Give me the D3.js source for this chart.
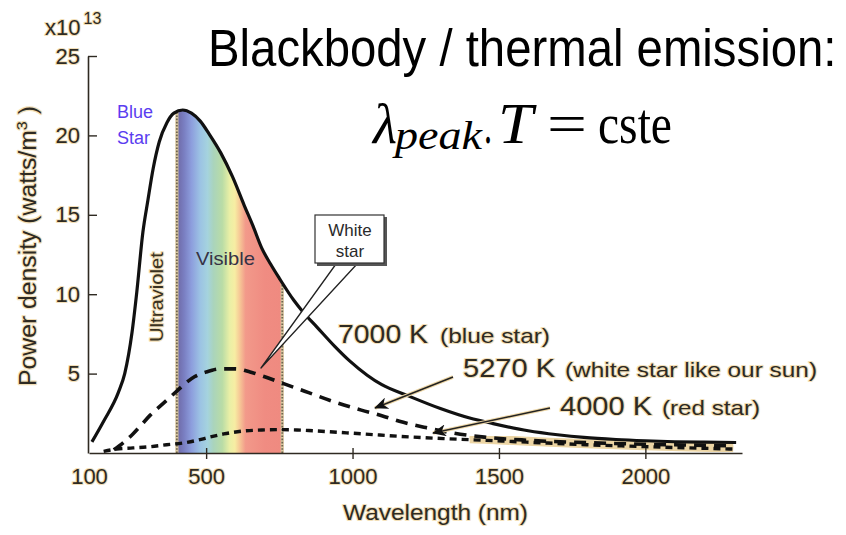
<!DOCTYPE html>
<html>
<head>
<meta charset="utf-8">
<script src="https://cdn.jsdelivr.net/npm/d3@7"></script>
<style>
  html, body { margin: 0; padding: 0; background: #ffffff; }
  svg { display: block; }
  .sans { font-family: "Liberation Sans", Arial, Helvetica, sans-serif; }
  .halo { paint-order: stroke; stroke: #f2dfb8; stroke-width: 2.2px; stroke-linejoin: round; }
</style>
</head>
<body>
<svg id="chart" width="846" height="535"></svg>
<script>
// Wavelength in nm, spectral power density in units of 1e13 W/m^3
const wavelength7000 = [110, 150, 200, 222, 247, 263, 284, 301, 319, 340, 366, 390, 420, 450, 480, 510, 550, 590, 630, 660, 690, 720, 750, 800, 830, 880, 940, 990, 1050, 1100, 1190, 1300, 1400, 1480, 1600, 1700, 1790, 1900, 2000, 2100, 2200, 2310];
const power7000 = [0.7, 2.0, 3.8, 5.0, 7.6, 10.1, 13.9, 15.9, 17.9, 19.6, 20.8, 21.4, 21.6, 21.4, 20.9, 20.1, 18.9, 17.4, 15.6, 14.3, 12.9, 11.9, 11.0, 9.6, 8.9, 7.9, 6.7, 5.8, 4.9, 4.3, 3.6, 2.8, 2.2, 1.85, 1.4, 1.15, 0.98, 0.85, 0.77, 0.71, 0.68, 0.66];

const wavelength5270 = [185, 220, 250, 280, 310, 340, 370, 400, 430, 460, 500, 550, 600, 650, 700, 760, 850, 940, 1030, 1100, 1160, 1250, 1330, 1450, 1600, 1800, 2000, 2150, 2300];
const power5270 = [0.2, 0.7, 1.2, 1.8, 2.4, 2.9, 3.4, 3.9, 4.4, 4.8, 5.1, 5.3, 5.3, 5.1, 4.8, 4.4, 3.8, 3.2, 2.7, 2.35, 2.0, 1.6, 1.3, 1.0, 0.8, 0.65, 0.55, 0.5, 0.45];

const wavelength4000 = [150, 194, 250, 300, 365, 420, 470, 512, 560, 626, 690, 752, 810, 865, 980, 1093, 1207, 1320, 1450, 1600, 1800, 2000, 2150, 2300];
const power4000 = [0.1, 0.25, 0.32, 0.38, 0.52, 0.63, 0.8, 1.0, 1.2, 1.38, 1.45, 1.47, 1.45, 1.4, 1.27, 1.13, 1.0, 0.9, 0.8, 0.68, 0.52, 0.4, 0.32, 0.25];

const xTicks = [100, 500, 1000, 1500, 2000];
const yTicks = [5, 10, 15, 20, 25];
const visibleRange = [400, 760];
const spectrumStops = [
  [400, "#6d68a4"], [425, "#7a7fc2"], [450, "#8d9edd"], [480, "#9cc3e4"],
  [505, "#a5d3de"], [525, "#aad4bc"], [555, "#b9dca6"], [580, "#e9efa6"],
  [598, "#f7eda3"], [615, "#f6c796"], [635, "#f2998a"], [700, "#f08c82"], [760, "#ef8a80"]
];

const zip = (xs, ys) => xs.map((w, i) => ({ w, p: ys[i] }));
const curve7000 = zip(wavelength7000, power7000);
const curve5270 = zip(wavelength5270, power5270);
const curve4000 = zip(wavelength4000, power4000);

const svg = d3.select("#chart");
const x = d3.scaleLinear().domain([100, 2330]).range([89, 742]);
const y = d3.scaleLinear().domain([0, 25]).range([453, 56]);

const line = d3.line().x(d => x(d.w)).y(d => y(d.p)).curve(d3.curveMonotoneX);
const areaUnder = d3.area().x(d => x(d.w)).y0(y(0)).y1(d => y(d.p)).curve(d3.curveMonotoneX);

const defs = svg.append("defs");
defs.append("clipPath").attr("id", "under7000")
  .append("path").attr("d", areaUnder(curve7000));
defs.append("clipPath").attr("id", "tailBand")
  .append("rect")
  .attr("x", x(1400)).attr("y", 436)
  .attr("width", x(2330) - x(1400)).attr("height", 16);

const grad = defs.append("linearGradient").attr("id", "spectrum")
  .attr("gradientUnits", "userSpaceOnUse")
  .attr("x1", x(visibleRange[0])).attr("x2", x(visibleRange[1]))
  .attr("y1", 0).attr("y2", 0);
grad.selectAll("stop").data(spectrumStops).join("stop")
  .attr("offset", d => (d[0] - visibleRange[0]) / (visibleRange[1] - visibleRange[0]))
  .attr("stop-color", d => d[1]);

const marker = defs.append("marker").attr("id", "arrowHead")
  .attr("viewBox", "0 -6 14 12").attr("refX", 13).attr("refY", 0)
  .attr("markerWidth", 14).attr("markerHeight", 12)
  .attr("markerUnits", "userSpaceOnUse").attr("orient", "auto");
marker.append("path").attr("d", "M14,0 L0,-6 L4,0 L0,6 Z").attr("fill", "#111");

// Visible band under the 7000 K curve
const band = svg.append("g").attr("clip-path", "url(#under7000)");
band.append("rect")
  .attr("x", x(visibleRange[0])).attr("y", y(25))
  .attr("width", x(visibleRange[1]) - x(visibleRange[0]))
  .attr("height", y(0) - y(25))
  .attr("fill", "url(#spectrum)");
band.selectAll("line.edge").data(visibleRange).join("line")
  .attr("class", "edge")
  .attr("x1", d => x(d)).attr("x2", d => x(d))
  .attr("y1", y(0)).attr("y2", y(25))
  .attr("stroke", "#d9c7a0").attr("stroke-width", 3.2);
band.selectAll("line.edgeDot").data(visibleRange).join("line")
  .attr("class", "edgeDot")
  .attr("x1", d => x(d)).attr("x2", d => x(d))
  .attr("y1", y(0)).attr("y2", y(25))
  .attr("stroke", "#6f6450").attr("stroke-width", 1.8)
  .attr("stroke-dasharray", "1.6 1.6");

// Beige fringe where the faint tails crowd the axis
const tail = svg.append("g").attr("clip-path", "url(#tailBand)");
[curve5270, curve4000].forEach(c => {
  tail.append("path").attr("d", line(c))
    .attr("fill", "none").attr("stroke", "#ecd5a4").attr("stroke-width", 7);
});

// Curves
svg.append("path").attr("d", line(curve4000))
  .attr("fill", "none").attr("stroke", "#111").attr("stroke-width", 3.4)
  .attr("stroke-dasharray", "7 5");
svg.append("path").attr("d", line(curve5270))
  .attr("fill", "none").attr("stroke", "#111").attr("stroke-width", 3.6)
  .attr("stroke-dasharray", "12 8");
svg.append("path").attr("d", line(curve7000))
  .attr("fill", "none").attr("stroke", "#111").attr("stroke-width", 3.2);

// Axes
const axisColor = "#2f2a22";
const xAxis = svg.append("g").attr("transform", `translate(0,${y(0)})`)
  .call(d3.axisBottom(x).tickValues(xTicks).tickSizeOuter(0).tickFormat(d3.format("d")));
xAxis.attr("font-family", null);
xAxis.select(".domain").attr("stroke", axisColor).attr("stroke-width", 1.6);
xAxis.selectAll(".tick line")
  .attr("y1", -5).attr("y2", 6)
  .attr("stroke", axisColor).attr("stroke-width", 1.4)
  .attr("display", d => d === 100 ? "none" : null);
xAxis.selectAll(".tick text")
  .attr("class", "sans halo").attr("y", 31).attr("dy", 0)
  .attr("font-size", 22).attr("fill", "#2e2a22");

const yAxis = svg.append("g").attr("transform", `translate(${x(100) - 1},0)`)
  .call(d3.axisLeft(y).tickValues(yTicks).tickSizeInner(-9).tickSizeOuter(0).tickPadding(8));
yAxis.attr("font-family", null);
yAxis.select(".domain").attr("stroke", axisColor).attr("stroke-width", 1.6);
yAxis.selectAll(".tick line").attr("stroke", axisColor).attr("stroke-width", 1.4);
yAxis.selectAll(".tick text")
  .attr("class", "sans halo").attr("font-size", 22).attr("fill", "#2e2a22");

const txt = "#2e2a22";

// Exponent
const expo = svg.append("text").attr("class", "sans halo").attr("x", 45).attr("y", 35)
  .attr("font-size", 22).attr("fill", txt);
expo.append("tspan").text("x10");
expo.append("tspan").attr("font-size", 16).attr("dy", -11).attr("dx", 3).text("13");

// Axis titles
const yTitle = svg.append("text").attr("class", "sans halo")
  .attr("transform", "translate(36,246) rotate(-90)")
  .attr("text-anchor", "middle").attr("font-size", 23).attr("fill", txt)
  .attr("textLength", 280).attr("lengthAdjust", "spacingAndGlyphs");
yTitle.append("tspan").text("Power density (watts/m");
yTitle.append("tspan").attr("font-size", 15).attr("dy", -9).text("3");
yTitle.append("tspan").attr("dy", 9).text(" )");

svg.append("text").attr("class", "sans halo")
  .attr("x", 343).attr("y", 520).attr("font-size", 22).attr("fill", txt)
  .attr("textLength", 185).attr("lengthAdjust", "spacingAndGlyphs")
  .text("Wavelength (nm)");

// Region labels
svg.append("text").attr("class", "sans")
  .attr("x", 117).attr("y", 118).attr("font-size", 18).attr("fill", "#5a3df0")
  .text("Blue");
svg.append("text").attr("class", "sans")
  .attr("x", 117).attr("y", 144).attr("font-size", 18).attr("fill", "#5a3df0")
  .text("Star");
svg.append("text").attr("class", "sans halo")
  .attr("transform", "translate(163,297) rotate(-90)")
  .attr("text-anchor", "middle").attr("font-size", 18).attr("fill", "#3a3222")
  .attr("textLength", 90).attr("lengthAdjust", "spacingAndGlyphs")
  .text("Ultraviolet");
svg.append("text").attr("class", "sans")
  .attr("x", 196).attr("y", 265).attr("font-size", 19).attr("fill", "#363246")
  .attr("textLength", 59).attr("lengthAdjust", "spacingAndGlyphs")
  .text("Visible");

// Curve labels
const curveLabels = [
  { big: "7000 K", small: "(blue star)", x: 338, y: 343, bw: 90, sx: 440, sw: 110 },
  { big: "5270 K", small: "(white star like our sun)", x: 463, y: 377, bw: 92, sx: 565, sw: 252 },
  { big: "4000 K", small: "(red star)", x: 560, y: 415, bw: 92, sx: 662, sw: 98 }
];
curveLabels.forEach(l => {
  svg.append("text").attr("class", "sans halo").attr("x", l.x).attr("y", l.y)
    .attr("font-size", 26).attr("fill", txt)
    .attr("textLength", l.bw).attr("lengthAdjust", "spacingAndGlyphs").text(l.big);
  svg.append("text").attr("class", "sans halo").attr("x", l.sx).attr("y", l.y)
    .attr("font-size", 21).attr("fill", txt)
    .attr("textLength", l.sw).attr("lengthAdjust", "spacingAndGlyphs").text(l.small);
});

// Arrows from labels to curves
const arrows = [
  { from: [453, 377], to: [375, 408] },
  { from: [550, 408], to: [433, 433] }
];
arrows.forEach(a => {
  svg.append("line")
    .attr("x1", a.from[0]).attr("y1", a.from[1]).attr("x2", a.to[0]).attr("y2", a.to[1])
    .attr("stroke", "#ecd5a4").attr("stroke-width", 3.5);
  svg.append("line")
    .attr("x1", a.from[0]).attr("y1", a.from[1]).attr("x2", a.to[0]).attr("y2", a.to[1])
    .attr("stroke", "#222").attr("stroke-width", 1.5)
    .attr("marker-end", "url(#arrowHead)");
});

// White star callout
svg.append("path")
  .attr("d", "M336,264 L357,264 L261,368 Z")
  .attr("fill", "#ffffff").attr("stroke", "#222").attr("stroke-width", 1.3)
  .attr("stroke-linejoin", "round");
svg.append("rect").attr("x", 317).attr("y", 217).attr("width", 70).attr("height", 49)
  .attr("fill", "#555");
svg.append("rect").attr("x", 315).attr("y", 215).attr("width", 69).attr("height", 48)
  .attr("fill", "#ffffff").attr("stroke", "#333").attr("stroke-width", 1.2);
svg.append("text").attr("class", "sans").attr("x", 350).attr("y", 236)
  .attr("text-anchor", "middle").attr("font-size", 17).attr("fill", "#2a2a2a").text("White");
svg.append("text").attr("class", "sans").attr("x", 350).attr("y", 257)
  .attr("text-anchor", "middle").attr("font-size", 17).attr("fill", "#2a2a2a").text("star");

// Heading and Wien relation
svg.append("text").attr("class", "sans")
  .attr("transform", "translate(208,66) scale(0.91,1)")
  .attr("font-size", 52).attr("fill", "#000")
  .text("Blackbody / thermal emission:");

const serif = "'Liberation Serif', 'DejaVu Serif', serif";
const eq = [
  { t: "\u03BB", x: 373, y: 143, size: 57, w: 24, italic: true },
  { t: "peak", x: 395, y: 149, size: 40, w: 87, italic: true },
  { t: ".", x: 484, y: 143, size: 57, w: 8, italic: false },
  { t: "T", x: 498, y: 143, size: 57, w: 35, italic: true },
  { t: "=", x: 547, y: 143, size: 57, w: 40, italic: false },
  { t: "cste", x: 598, y: 143, size: 57, w: 74, italic: false }
];
eq.forEach(e => {
  svg.append("text").attr("x", e.x).attr("y", e.y)
    .attr("font-family", serif).attr("font-size", e.size)
    .attr("font-style", e.italic ? "italic" : "normal").attr("fill", "#000")
    .attr("textLength", e.w).attr("lengthAdjust", "spacingAndGlyphs")
    .text(e.t);
});
</script>
</body>
</html>
